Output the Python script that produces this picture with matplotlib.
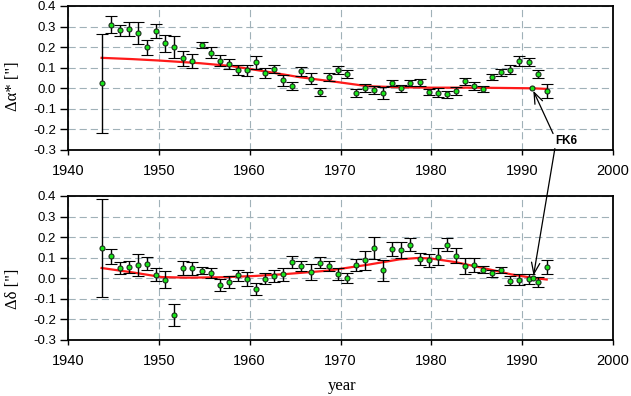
import matplotlib
matplotlib.use("Agg")
import matplotlib.pyplot as plt
import numpy as np

# ---------------- data ----------------
years = [1943.7, 1944.7, 1945.7, 1946.7, 1947.7, 1948.7, 1949.7, 1950.7, 1951.7, 1952.7,
         1953.7, 1954.7, 1955.7, 1956.7, 1957.7, 1958.7, 1959.7, 1960.7, 1961.7, 1962.7,
         1963.7, 1964.7, 1965.7, 1966.7, 1967.7, 1968.7, 1969.7, 1970.7, 1971.7, 1972.7,
         1973.7, 1974.7, 1975.7, 1976.7, 1977.7, 1978.7, 1979.7, 1980.7, 1981.7, 1982.7,
         1983.7, 1984.7, 1985.7, 1986.7, 1987.7, 1988.7, 1989.7, 1990.7, 1991.7, 1992.7]

dalpha = [0.024, 0.31, 0.282, 0.287, 0.268, 0.199, 0.278, 0.219, 0.202, 0.145,
          0.132, 0.21, 0.173, 0.135, 0.119, 0.088, 0.087, 0.127, 0.075, 0.093,
          0.038, 0.013, 0.083, 0.046, -0.02, 0.054, 0.09, 0.07, -0.021, 0.002,
          -0.008, -0.023, 0.026, 0.0, 0.024, 0.029, -0.018, -0.021, -0.028, -0.013,
          0.034, 0.011, -0.002, 0.055, 0.077, 0.091, 0.132, 0.127, 0.069, -0.011]
dalpha_err = [0.24, 0.04, 0.026, 0.033, 0.053, 0.035, 0.033, 0.042, 0.054, 0.036,
              0.033, 0.014, 0.026, 0.028, 0.025, 0.025, 0.028, 0.031, 0.026, 0.02,
              0.026, 0.019, 0.022, 0.027, 0.019, 0.02, 0.02, 0.02, 0.019, 0.02,
              0.018, 0.03, 0.016, 0.017, 0.014, 0.016, 0.016, 0.02, 0.017, 0.02,
              0.016, 0.018, 0.015, 0.014, 0.016, 0.022, 0.025, 0.02, 0.018, 0.034]

ddelta = [0.147, 0.107, 0.05, 0.055, 0.065, 0.071, 0.018, -0.006, -0.18, 0.05,
          0.049, 0.037, 0.026, -0.031, -0.018, 0.015, -0.002, -0.052, -0.003, 0.01,
          0.019, 0.078, 0.058, 0.03, 0.076, 0.06, 0.021, 0.0, 0.063, 0.087,
          0.147, 0.039, 0.144, 0.136, 0.164, 0.094, 0.087, 0.105, 0.164, 0.11,
          0.058, 0.066, 0.042, 0.024, 0.042, -0.011, -0.006, -0.003, -0.018, 0.053]
ddelta_err = [0.238, 0.036, 0.03, 0.031, 0.053, 0.032, 0.033, 0.043, 0.053, 0.036,
              0.032, 0.016, 0.026, 0.029, 0.028, 0.026, 0.034, 0.03, 0.027, 0.028,
              0.032, 0.028, 0.025, 0.039, 0.028, 0.024, 0.027, 0.025, 0.03, 0.045,
              0.054, 0.052, 0.034, 0.038, 0.031, 0.027, 0.031, 0.04, 0.032, 0.038,
              0.039, 0.034, 0.018, 0.017, 0.014, 0.024, 0.029, 0.026, 0.024, 0.034]

# smooth fitted curves (red)
fit_a_years = [1943.7, 1947.0, 1950.0, 1954.5, 1958.0, 1962.0, 1965.5, 1969.7, 1973.0,
               1976.5, 1980.0, 1985.0, 1991.1, 1992.7]
fit_a_vals = [0.148, 0.142, 0.135, 0.122, 0.108, 0.080, 0.054, 0.030, 0.010,
              0.005, 0.003, 0.003, 0.0, -0.003]
fit_d_years = [1943.7, 1947.2, 1950.3, 1953.2, 1956.9, 1960.5, 1964.1, 1968.6, 1972.9,
               1976.5, 1978.6, 1980.0, 1982.6, 1985.5, 1988.8, 1991.0, 1992.7]
fit_d_vals = [0.05, 0.028, 0.006, 0.003, 0.005, 0.011, 0.021, 0.037, 0.065,
              0.092, 0.099, 0.096, 0.079, 0.052, 0.019, 0.003, -0.006]

# FK6 reference point
fk6_year_a, fk6_val_a = 1991.1, 0.0
fk6_year_d, fk6_val_d = 1991.2, 0.0

xticks = [1940, 1950, 1960, 1970, 1980, 1990, 2000]
yticks = [-0.3, -0.2, -0.1, 0.0, 0.1, 0.2, 0.3, 0.4]

# ---------------- figure ----------------
W, H = 631, 396
fig = plt.figure(figsize=(W / 100, H / 100), dpi=100)

def px_axes(l, t, r, b):
    return [l / W, 1 - b / H, (r - l) / W, (b - t) / H]

ax_a = fig.add_axes(px_axes(68, 6, 613, 150))
ax_d = fig.add_axes(px_axes(68, 196, 613, 340))

grid_col = "#a0b1b8"
green = "#19e619"
edge = "#1a2a1a"
red = "#ff1a1a"
sans = ["Liberation Sans", "DejaVu Sans"]
serif = ["Liberation Serif", "DejaVu Serif"]

def style(ax):
    ax.set_xlim(1940, 2000)
    ax.set_ylim(-0.3, 0.4)
    ax.set_xticks(xticks)
    ax.set_yticks(yticks)
    ax.set_xticklabels([str(v) for v in xticks], fontfamily=sans, fontsize=10.5)
    ax.set_yticklabels([f"{v:.1f}" for v in yticks], fontfamily=sans, fontsize=9.5)
    ax.tick_params(axis="x", direction="out", length=3.5, width=1.0, pad=6.5, colors="black")
    ax.tick_params(axis="y", direction="out", length=5.5, width=1.0, pad=3, colors="black")
    ax.tick_params(top=False, right=False)
    for s in ax.spines.values():
        s.set_linewidth(1.3)
        s.set_color("black")
    ax.grid(True, color=grid_col, linestyle=(0, (6.5, 3.5)), linewidth=0.8)
    ax.set_axisbelow(True)
    ax.patch.set_visible(False)

for ax, vals, errs, fy, fv, fky, fkv in [
        (ax_a, dalpha, dalpha_err, fit_a_years, fit_a_vals, fk6_year_a, fk6_val_a),
        (ax_d, ddelta, ddelta_err, fit_d_years, fit_d_vals, fk6_year_d, fk6_val_d)]:
    style(ax)
    ax.plot(fy, fv, color=red, linewidth=1.6, zorder=2)
    ax.errorbar(years, vals, yerr=errs, fmt="o", color="black", ecolor="black",
                elinewidth=1.0, capsize=4, capthick=1.0, markersize=3.6,
                markerfacecolor=green, markeredgecolor=edge, markeredgewidth=0.8, zorder=3)
    ax.plot([fky], [fkv], "o", markersize=3.6, markerfacecolor=green,
            markeredgecolor=edge, markeredgewidth=0.8, zorder=4)

# y labels
ax_a.text(-0.101, 0.444, 'Δα* ["]', rotation=90, ha="center", va="center",
          transform=ax_a.transAxes, fontfamily=serif, fontsize=12)
ax_d.text(-0.101, 0.353, 'Δδ ["]', rotation=90, ha="center", va="center",
          transform=ax_d.transAxes, fontfamily=serif, fontsize=12)
ax_d.text(0.503, -0.319, "year", ha="center", va="center",
          transform=ax_d.transAxes, fontfamily=serif, fontsize=12)

# FK6 annotation
ax_a.text(1994.8, -0.254, "FK6", ha="center", va="center", fontfamily=sans,
          fontsize=8.5, fontweight="bold", zorder=6)
arrow = dict(arrowstyle="->,head_length=0.8,head_width=0.3", color="black",
             lw=0.9, shrinkA=0, shrinkB=2, mutation_scale=10)
a1 = ax_a.annotate("", xy=(fk6_year_a, fk6_val_a), xycoords="data",
                   xytext=(1993.4, -0.22), textcoords="data", arrowprops=arrow,
                   annotation_clip=False, zorder=10)
a2 = ax_a.annotate("", xy=(fk6_year_d, fk6_val_d), xycoords=ax_d.transData,
                   xytext=(1993.6, -0.293), textcoords="data", arrowprops=arrow,
                   annotation_clip=False, zorder=10)
ax_a.set_zorder(2)
ax_d.set_zorder(1)

fig.savefig("out.png", dpi=100, facecolor="white")
